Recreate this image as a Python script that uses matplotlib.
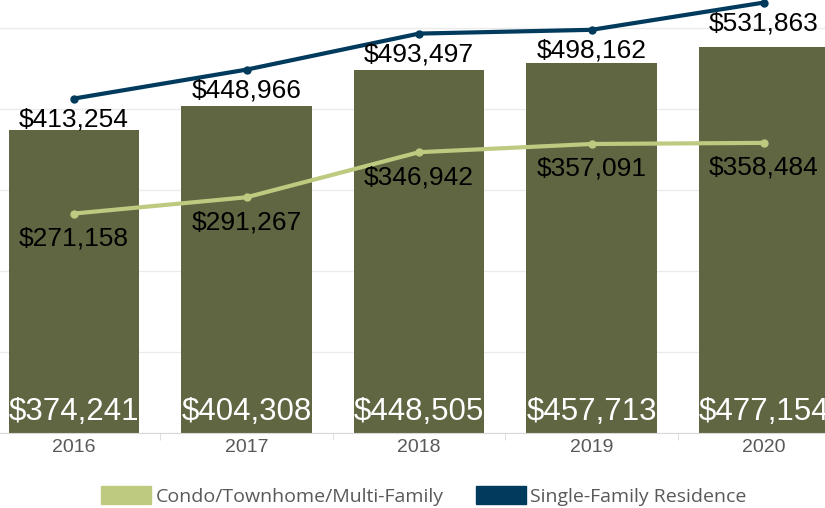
import matplotlib.pyplot as plt
from matplotlib.patches import Patch
import numpy as np

years = ["2016", "2017", "2018", "2019", "2020"]
bar_values = [374241, 404308, 448505, 457713, 477154]
sfr_values = [413254, 448966, 493497, 498162, 531863]
condo_values = [271158, 291267, 346942, 357091, 358484]

bar_color = "#5F6641"
sfr_color = "#003A5C"
condo_color = "#BDCA80"

fig = plt.figure(figsize=(8.25, 5.08), dpi=100)
ax = fig.add_axes([0, 75 / 508, 1, 433 / 508])

x = np.arange(len(years))
ax.bar(x, bar_values, width=0.754, color=bar_color, zorder=2)
ax.plot(x, sfr_values, color=sfr_color, lw=3, marker="o", ms=5, zorder=3)
ax.plot(x, condo_values, color=condo_color, lw=3, marker="o", ms=5, zorder=3)

lab_font = dict(family="Liberation Sans")
for i in x:
    ax.annotate(f"${bar_values[i]:,}", (i, 0), xytext=(0, 15), textcoords="offset points",
                ha="center", va="center", color="white", fontsize=22.5, **lab_font)
    ax.annotate(f"${sfr_values[i]:,}", (i, sfr_values[i]), xytext=(0, -15), textcoords="offset points",
                ha="center", va="center", color="black", fontsize=19, **lab_font)
    ax.annotate(f"${condo_values[i]:,}", (i, condo_values[i]), xytext=(0, -18), textcoords="offset points",
                ha="center", va="center", color="black", fontsize=19, **lab_font)

ax.set_xlim(-74 / 172.5, (825 - 74) / 172.5)
ax.set_ylim(0, 535000)
ax.set_yticks(np.arange(0, 500001, 100000))
ax.yaxis.grid(True, color="#EBEBEB", lw=1, zorder=0)
ax.set_axisbelow(True)
ax.tick_params(axis="y", left=False, labelleft=False)
ax.set_xticks(x)
ax.set_xticklabels(years, fontsize=14, color="#595959", **lab_font)
ax.tick_params(axis="x", length=0, pad=4)
ax.set_xticks(x[:-1] + 0.5, minor=True)
ax.tick_params(axis="x", which="minor", length=5, color="#D9D9D9")
for s in ["top", "right", "left"]:
    ax.spines[s].set_visible(False)
ax.spines["bottom"].set_color("#D9D9D9")

handles = [Patch(color=condo_color, label="Condo/Townhome/Multi-Family"),
           Patch(color=sfr_color, label="Single-Family Residence")]
fig.legend(handles=handles, loc="center", bbox_to_anchor=(424 / 825, 1 - 496 / 508), ncol=2,
           frameon=False, handlelength=2.57, handleheight=1.0, handletextpad=0.2, columnspacing=1.7,
           prop=dict(family="Open Sans", size=14), labelcolor="#595959")

fig.savefig("out.png", dpi=100)
